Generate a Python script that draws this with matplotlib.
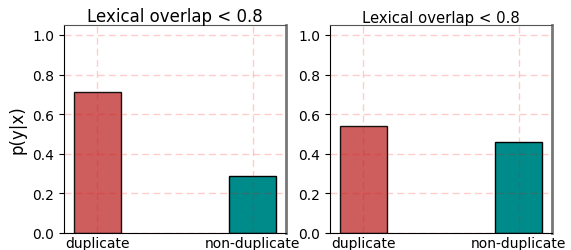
import matplotlib
matplotlib.use("Agg")
import matplotlib.pyplot as plt

categories = ["duplicate", "non-duplicate"]
left_values = [0.71, 0.29]
right_values = [0.54, 0.46]
titles = ["Lexical overlap < 0.8", "Lexical overlap < 0.8"]
title_sizes = [12, 10.7]
colors = ["#c94c4c", "#008b8b"]
alphas = [0.9, 1.0]

fig = plt.figure(figsize=(5.71, 2.51), dpi=100)
ax1 = fig.add_axes([64/571, 17/251, 222/571, 208/251])
ax2 = fig.add_axes([330/571, 17/251, 222/571, 208/251])

for ax, vals, title, ts in zip([ax1, ax2], [left_values, right_values], titles, title_sizes):
    x = list(range(len(categories)))
    for i, v in enumerate(vals):
        ax.bar(x[i], v, width=0.3, color=colors[i], alpha=alphas[i],
               edgecolor="black", linewidth=1, zorder=1)
    ax.set_xticks(x)
    ax.set_xticklabels(categories, fontsize=10)
    ax.set_ylim(0, 1.05)
    ax.set_yticks([0.0, 0.2, 0.4, 0.6, 0.8, 1.0])
    ax.tick_params(axis="y", labelsize=10)
    ax.tick_params(axis="x", length=0, pad=2)
    ax.set_axisbelow(False)
    ax.grid(True, color="red", linestyle=(0, (5, 3)), linewidth=1.0, alpha=0.2, zorder=3)
    ax.set_title(title, fontsize=ts, pad=2)
    ax.spines["left"].set_color("black")
    ax.spines["bottom"].set_color("black")
    ax.spines["top"].set_color("#555555")
    ax.spines["right"].set_color("#777777")
    ax.spines["right"].set_linewidth(2)

ax1.set_ylabel("p(y|x)", fontsize=12)

fig.savefig("out.png", dpi=100)
